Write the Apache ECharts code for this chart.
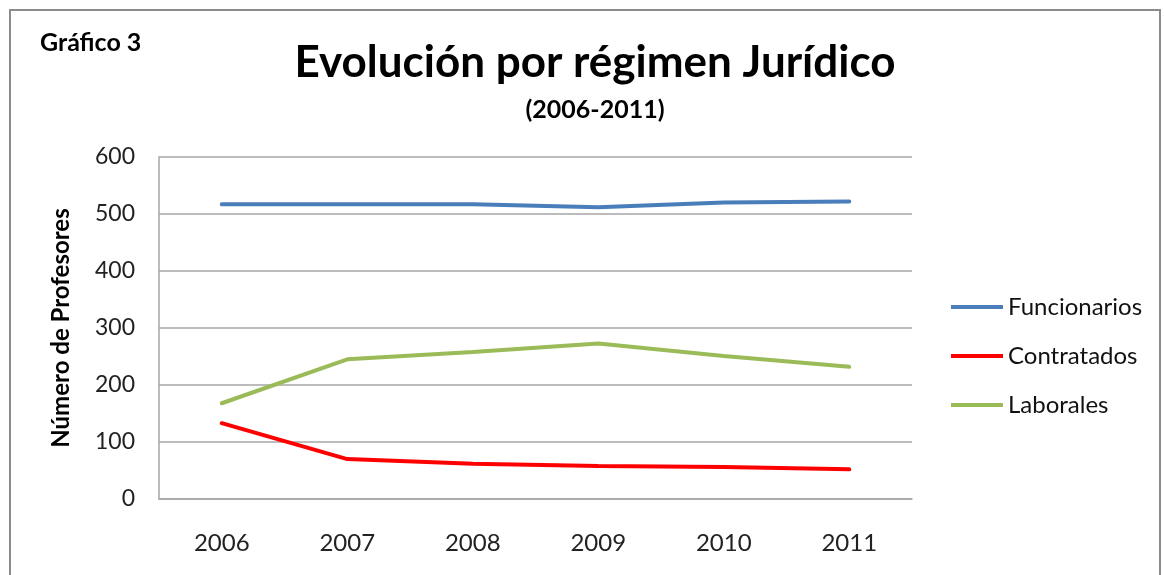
<!DOCTYPE html>
<html>
<head>
<meta charset="utf-8">
<script src="https://cdn.jsdelivr.net/npm/echarts@6/dist/echarts.min.js"></script>
<style>
  html, body { margin: 0; padding: 0; background: #fff; }
  #chart { width: 1164px; height: 575px; }
</style>
</head>
<body>
<div id="chart"></div>
<script>
const years = ['2006', '2007', '2008', '2009', '2010', '2011'];
const funcionarios = [517, 517, 517, 512, 520, 522];
const contratados = [133, 70, 62, 58, 56, 52];
const laborales = [168, 245, 258, 273, 251, 232];

const font = 'Lato, "Open Sans", sans-serif';

const chart = echarts.init(document.getElementById('chart'));

const option = {
  animation: false,
  backgroundColor: '#fff',
  textStyle: { fontFamily: font },
  graphic: [
    {
      type: 'rect',
      shape: { x: 10, y: 10, width: 1150, height: 580 },
      style: { fill: 'none', stroke: '#8c8c8c', lineWidth: 2 }
    },
    {
      type: 'text',
      left: 40,
      top: 30,
      style: { text: 'Gráfico 3', font: 'bold 25px ' + font, fill: '#000' }
    }
  ],
  title: {
    text: 'Evolución por régimen Jurídico',
    subtext: '(2006-2011)',
    left: 590,
    textAlign: 'center',
    top: 36,
    itemGap: 12,
    textStyle: { fontFamily: font, fontSize: 44, fontWeight: 'bold', color: '#000' },
    subtextStyle: { fontFamily: font, fontSize: 25, fontWeight: 'bold', color: '#000' }
  },
  legend: {
    orient: 'vertical',
    left: 946,
    top: 290,
    itemWidth: 52,
    itemHeight: 4,
    itemGap: 25,
    icon: 'rect',
    textStyle: { fontFamily: font, fontSize: 24, color: '#111', padding: [0, 0, 0, 0] },
    data: ['Funcionarios', 'Contratados', 'Laborales']
  },
  grid: { left: 159, right: 252, top: 157, bottom: 76 },
  xAxis: {
    type: 'category',
    data: years,
    boundaryGap: true,
    axisLine: { show: true, lineStyle: { color: '#a6a6a6', width: 1.5 } },
    axisTick: { show: false },
    axisLabel: { fontFamily: font, fontSize: 24, color: '#222', margin: 32 }
  },
  yAxis: {
    type: 'value',
    min: 0,
    max: 600,
    interval: 100,
    name: 'Número de Profesores',
    nameLocation: 'middle',
    nameRotate: 90,
    nameGap: 86,
    nameTextStyle: { fontFamily: font, fontSize: 24, fontWeight: 'bold', color: '#000' },
    axisLine: { show: true, lineStyle: { color: '#a6a6a6', width: 1.5 } },
    axisTick: { show: false },
    axisLabel: { fontFamily: font, fontSize: 23, color: '#222', margin: 24 },
    splitLine: { lineStyle: { color: '#a6a6a6', width: 1.5 } }
  },
  series: [
    {
      name: 'Funcionarios',
      type: 'line',
      data: funcionarios,
      symbol: 'none',
      color: '#4a7ebb',
      lineStyle: { width: 4, color: '#4a7ebb', cap: 'round' }
    },
    {
      name: 'Contratados',
      type: 'line',
      data: contratados,
      symbol: 'none',
      color: '#ff0000',
      lineStyle: { width: 4, color: '#ff0000', cap: 'round' }
    },
    {
      name: 'Laborales',
      type: 'line',
      data: laborales,
      symbol: 'none',
      color: '#9bbb59',
      lineStyle: { width: 4, color: '#9bbb59', cap: 'round' }
    }
  ]
};

chart.setOption(option);
</script>
</body>
</html>
